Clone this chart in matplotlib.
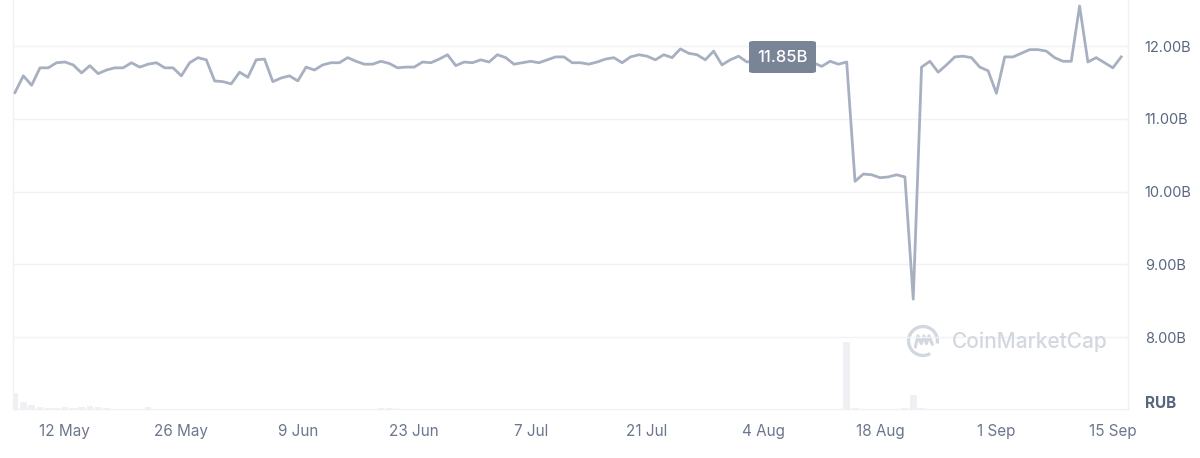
import numpy as np
import pandas as pd
import matplotlib.pyplot as plt
import matplotlib.dates as mdates
from matplotlib.patches import FancyBboxPatch, Arc

plt.rcParams['font.family'] = ['Inter', 'DejaVu Sans']

# market cap, RUB billions, one point per day from 6 May
cap = [11.36, 11.59, 11.46, 11.70, 11.70, 11.77, 11.78, 11.74, 11.63, 11.73,
       11.62, 11.67, 11.70, 11.70, 11.77, 11.71, 11.75, 11.77, 11.70, 11.70,
       11.59, 11.77, 11.84, 11.81, 11.52, 11.51, 11.48, 11.64, 11.57, 11.81,
       11.82, 11.51, 11.56, 11.59, 11.52, 11.71, 11.67, 11.74, 11.77, 11.77,
       11.84, 11.79, 11.75, 11.75, 11.79, 11.76, 11.70, 11.71, 11.71, 11.78,
       11.77, 11.82, 11.88, 11.73, 11.78, 11.77, 11.81, 11.78, 11.88, 11.84,
       11.75, 11.77, 11.79, 11.77, 11.81, 11.85, 11.85, 11.77, 11.77, 11.75,
       11.78, 11.82, 11.84, 11.77, 11.85, 11.88, 11.86, 11.81, 11.88, 11.84,
       11.96, 11.90, 11.88, 11.81, 11.93, 11.74, 11.81, 11.86, 11.78, 11.80,
       11.85, 11.83, 11.81, 11.80, 11.83, 11.81, 11.77, 11.72, 11.79, 11.75,
       11.78, 10.14, 10.24, 10.23, 10.19, 10.20, 10.23, 10.20, 8.52, 11.71,
       11.79, 11.64, 11.74, 11.85, 11.86, 11.84, 11.71, 11.66, 11.35, 11.85,
       11.85, 11.90, 11.95, 11.95, 11.93, 11.84, 11.79, 11.79, 12.55, 11.78,
       11.84, 11.77, 11.70, 11.85]

# volume (relative units)
vol = [16, 7, 4, 2, 1, 1, 2, 1, 2, 3, 2, 1, 0.3, 0.3, 0.3, 0.3, 2, 0.3, 0.3, 0.3,
       0.3, 0.3, 0.3, 0.3, 0.3, 0.3, 0.3, 0.3, 0.3, 0.3, 0.3, 0.3, 0.3, 0.3, 0.3, 0.3, 0.3, 0.3, 0.3, 0.3,
       0.3, 0.3, 0.3, 0.3, 1.5, 1.5, 0.3, 0.3, 0.3, 0.3, 0.3, 0.3, 0.3, 0.3, 0.3, 0.3, 0.3, 0.3, 0.3, 0.3,
       0.3, 0.3, 0.3, 0.3, 0.3, 0.3, 0.3, 0.3, 0.3, 0.3, 0.3, 0.3, 0.3, 0.3, 0.3, 0.3, 0.3, 0.3, 0.3, 0.3,
       0.3, 0.3, 0.3, 0.3, 0.3, 0.3, 0.3, 0.3, 0.3, 0.3, 0.3, 0.3, 0.3, 0.3, 0.3, 0.3, 0.3, 0.3, 0.3, 0.3,
       67, 1, 0.3, 0.3, 0.3, 0.3, 0.3, 1, 14, 1, 0.3, 0.3, 0.3, 0.3, 0.3, 0.3, 0.3, 0.3, 0.3, 0.3,
       0.3, 0.3, 0.3, 0.3, 0.3, 0.3, 0.3, 0.3, 0.3, 0.3, 0.3, 0.3, 0.3, 0.3]

dates = pd.date_range('2023-05-06', periods=len(cap), freq='D')
tick_dates = pd.to_datetime(['2023-05-12', '2023-05-26', '2023-06-09', '2023-06-23',
                             '2023-07-07', '2023-07-21', '2023-08-04', '2023-08-18',
                             '2023-09-01', '2023-09-15'])
tick_labels = ['12 May', '26 May', '9 Jun', '23 Jun', '7 Jul', '21 Jul',
               '4 Aug', '18 Aug', '1 Sep', '15 Sep']
y_ticks = [8, 9, 10, 11, 12]

W, H = 1200, 458
fig = plt.figure(figsize=(12, 4.58), dpi=100)
ax = fig.add_axes([13 / W, 1 - 409 / H, (1128 - 13) / W, 409 / H])
axv = ax.twinx()
ax.set_zorder(2)
ax.patch.set_visible(False)

x0 = mdates.date2num(dates[0])
pxday = 8.317
ax.set_xlim(x0 - 2 / pxday, x0 + (1128 - 15) / pxday)
ax.set_ylim(12 - (409 - 46) / 72.75, 12 + 46 / 72.75)

axv.bar(dates, vol, width=0.8, color='#eef0f4', zorder=0)
axv.set_ylim(0, 409)
axv.set_yticks([])
for s in axv.spines.values():
    s.set_visible(False)

ax.plot(dates, cap, color='#a7b0c1', lw=2.0, solid_joinstyle='round', zorder=3)

ax.set_yticks(y_ticks)
ax.set_yticklabels([f'{v:.2f}B' for v in y_ticks])
ax.yaxis.tick_right()
ax.grid(axis='y', color='#f1f2f5', lw=1)
ax.set_xticks(tick_dates)
ax.set_xticklabels(tick_labels)
ax.tick_params(axis='y', length=0, pad=12, labelsize=10.5, labelcolor='#58667e')
ax.tick_params(axis='x', length=0, pad=11, labelsize=11, labelcolor='#6b778c')
ax.spines['top'].set_visible(False)
for side in ['left', 'right', 'bottom']:
    ax.spines[side].set_color('#eff1f4')
    ax.spines[side].set_linewidth(1)

fig.text(1145 / W, 1 - 403 / H, 'RUB', fontsize=11, fontweight='bold',
         color='#58667e', va='center', ha='left')

# tooltip
tip = FancyBboxPatch((749 / W, 1 - 73 / H), 67 / W, 32 / H,
                     boxstyle='round,pad=0,rounding_size=0.004',
                     transform=fig.transFigure, fc='#7a8497', ec='none', zorder=10)
fig.patches.append(tip)
fig.text(782.5 / W, 1 - 57 / H, '11.85B', fontsize=12, color='white',
         fontweight='medium', ha='center', va='center', zorder=11)

# watermark
wm = '#d2d7e0'
fig.text(952 / W, 1 - 342 / H, 'CoinMarketCap', fontsize=15, color=wm,
         ha='left', va='center', fontweight='medium')
logo_ax = fig.add_axes([906 / W, 1 - 358 / H, 34 / W, 34 / H])
logo_ax.set_xlim(-1, 1)
logo_ax.set_ylim(-1, 1)
logo_ax.set_aspect('equal')
logo_ax.axis('off')
logo_ax.add_patch(Arc((0, 0), 1.7, 1.7, theta1=-10, theta2=300, color=wm, lw=2.4))
logo_ax.plot([-0.45, -0.3, -0.1, 0.05, 0.2, 0.35, 0.55],
             [-0.35, 0.3, -0.15, 0.3, -0.15, 0.3, -0.2], color=wm, lw=2.2,
             solid_joinstyle='round', solid_capstyle='round')

fig.savefig('out.png', dpi=100)
